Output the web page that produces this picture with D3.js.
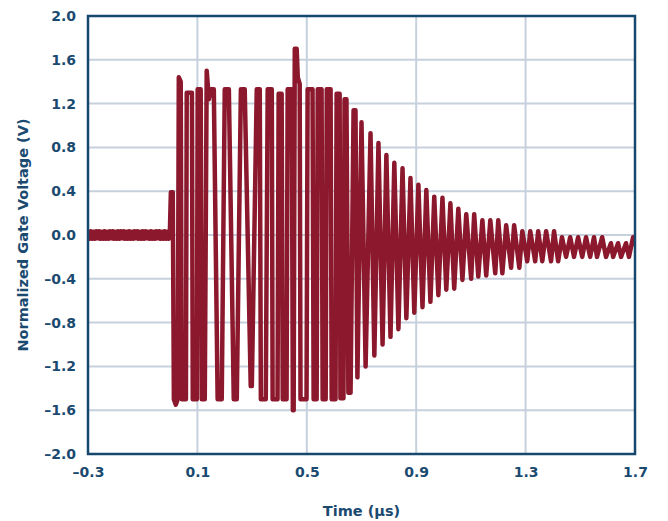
<!DOCTYPE html>
<html>
<head>
<meta charset="utf-8">
<script src="https://cdn.jsdelivr.net/npm/d3@7"></script>
<style>
  html, body { margin: 0; padding: 0; background: #ffffff; }
  svg { display: block; }
  text { font-family: "DejaVu Sans", "Liberation Sans", Arial, sans-serif; font-weight: bold; fill: #1b4a70; }
</style>
</head>
<body>
<svg id="chart" width="668" height="521"></svg>
<script>
// Axis ticks
const xTicks = [-0.3, 0.1, 0.5, 0.9, 1.3, 1.7];
const yTicks = [2.0, 1.6, 1.2, 0.8, 0.4, 0.0, -0.4, -0.8, -1.2, -1.6, -2.0];
const xTitle = "Time (µs)";
const yTitle = "Normalized Gate Voltage (V)";

// Pre-trigger baseline noise: [time µs, volts]
const baseline = [
  [-0.300, 0.03], [-0.295, -0.035], [-0.290, 0.035], [-0.285, -0.035], [-0.280, 0.03],
  [-0.275, -0.035], [-0.270, 0.035], [-0.265, -0.03], [-0.260, 0.035], [-0.255, -0.035],
  [-0.250, 0.03], [-0.245, -0.035], [-0.240, 0.035], [-0.235, -0.035], [-0.230, 0.03],
  [-0.225, -0.035], [-0.220, 0.035], [-0.215, -0.03], [-0.210, 0.035], [-0.205, -0.035],
  [-0.200, 0.03], [-0.195, -0.035], [-0.190, 0.035], [-0.185, -0.035], [-0.180, 0.035],
  [-0.175, -0.03], [-0.170, 0.035], [-0.165, -0.035], [-0.160, 0.03], [-0.155, -0.035],
  [-0.150, 0.035], [-0.145, -0.035], [-0.140, 0.03], [-0.135, -0.035], [-0.130, 0.035],
  [-0.125, -0.03], [-0.120, 0.035], [-0.115, -0.035], [-0.110, 0.03], [-0.105, -0.035],
  [-0.100, 0.035], [-0.095, -0.035], [-0.090, 0.035], [-0.085, -0.03], [-0.080, 0.03],
  [-0.075, -0.035], [-0.070, 0.035], [-0.065, -0.035], [-0.060, 0.03], [-0.055, -0.035],
  [-0.050, 0.035], [-0.045, -0.03], [-0.040, 0.035], [-0.035, -0.035], [-0.030, 0.03],
  [-0.025, -0.035], [-0.020, 0.035], [-0.015, -0.035], [-0.010, 0.03], [-0.005, -0.035],
  [-0.001, 0.00]
];

// Switching transient (clipped region): [time µs, volts]
const burst = [
  [0.003, 0.39], [0.010, 0.39], [0.014, -1.50], [0.021, -1.55], [0.028, -1.50],
  [0.032, 1.44], [0.039, 1.40], [0.043, -1.50], [0.058, -1.50], [0.061, 1.30],
  [0.080, 1.30], [0.083, -1.50], [0.098, -1.50], [0.101, 1.33], [0.112, 1.33],
  [0.116, -1.50], [0.127, -1.50], [0.134, 1.50], [0.142, 1.24], [0.149, 1.33],
  [0.160, 1.33], [0.174, -1.50], [0.189, -1.50], [0.200, 1.33], [0.215, 1.33],
  [0.233, -1.50], [0.244, -1.50], [0.259, 1.33], [0.273, 1.33], [0.295, -1.38],
  [0.299, -1.38], [0.317, 1.33], [0.328, 1.33], [0.332, -1.50], [0.350, -1.50],
  [0.357, 1.33], [0.372, 1.33], [0.375, -1.50], [0.393, -1.50], [0.397, 1.29],
  [0.408, 1.29], [0.412, -1.50], [0.426, -1.50], [0.430, 1.33], [0.445, 1.33],
  [0.449, -1.60], [0.452, -1.60], [0.456, 1.70], [0.463, 1.70], [0.467, 1.44],
  [0.474, 1.38], [0.477, -1.50], [0.499, -1.50], [0.503, 1.33], [0.521, 1.33],
  [0.525, -1.50], [0.536, -1.50], [0.540, 1.33], [0.554, 1.33], [0.558, -1.50],
  [0.569, -1.50], [0.573, 1.33], [0.587, 1.33], [0.591, -1.50], [0.605, -1.50],
  [0.609, 1.29], [0.620, 1.29], [0.623, -1.49], [0.634, -1.49], [0.638, 1.24],
  [0.645, 1.24], [0.652, -1.44], [0.660, -1.44], [0.671, 1.14], [0.678, 1.14]
];

// Decaying ringing: [time µs, volts]
const ringing = [
  [0.685, -1.30], [0.700, 1.03], [0.715, -1.20], [0.733, 0.93], [0.747, -1.10],
  [0.762, 0.84], [0.777, -1.00], [0.791, 0.73], [0.806, -0.93], [0.820, 0.66],
  [0.835, -0.86], [0.850, 0.61], [0.864, -0.76], [0.879, 0.52], [0.893, -0.71],
  [0.908, 0.46], [0.923, -0.66], [0.937, 0.41], [0.952, -0.61], [0.966, 0.35],
  [0.981, -0.55], [0.996, 0.34], [1.010, -0.50], [1.025, 0.29], [1.039, -0.49],
  [1.054, 0.24], [1.069, -0.41], [1.083, 0.19], [1.101, -0.40], [1.112, 0.19],
  [1.127, -0.38], [1.142, 0.135], [1.156, -0.37], [1.171, 0.135], [1.189, -0.35],
  [1.200, 0.135], [1.215, -0.35], [1.229, 0.09], [1.247, -0.30], [1.258, 0.09],
  [1.277, -0.30], [1.288, 0.035], [1.306, -0.24], [1.317, 0.035], [1.335, -0.24],
  [1.346, 0.035], [1.361, -0.24], [1.375, 0.035], [1.393, -0.24], [1.404, 0.035],
  [1.419, -0.24], [1.433, -0.02], [1.448, -0.20], [1.463, -0.02], [1.477, -0.20],
  [1.492, -0.02], [1.507, -0.20], [1.521, -0.02], [1.536, -0.20], [1.550, -0.02],
  [1.561, -0.20], [1.580, -0.02], [1.594, -0.20], [1.612, -0.075], [1.620, -0.20],
  [1.638, -0.075], [1.649, -0.20], [1.667, -0.075], [1.678, -0.20], [1.693, -0.02],
  [1.700, -0.10]
];

const svg = d3.select("#chart");
const margin = { left: 88, top: 16, right: 33, bottom: 67 };
const W = 668 - margin.left - margin.right;
const H = 521 - margin.top - margin.bottom;

const x = d3.scaleLinear().domain([-0.3, 1.7]).range([0, W]);
const y = d3.scaleLinear().domain([-2.0, 2.0]).range([H, 0]);

const g = svg.append("g").attr("transform", `translate(${margin.left},${margin.top})`);

const fmt = v => (v < 0 ? "\u2013" + Math.abs(v).toFixed(1) : v.toFixed(1));

// Grid
g.append("g")
  .selectAll("line")
  .data(yTicks.filter(v => v > -2 && v < 2))
  .join("line")
  .attr("x1", 0).attr("x2", W)
  .attr("y1", d => y(d)).attr("y2", d => y(d))
  .attr("stroke", "#c6d1dd").attr("stroke-width", 2);

g.append("g")
  .selectAll("line")
  .data(xTicks.filter(v => v > -0.3 && v < 1.7))
  .join("line")
  .attr("y1", 0).attr("y2", H)
  .attr("x1", d => x(d)).attr("x2", d => x(d))
  .attr("stroke", "#c6d1dd").attr("stroke-width", 2);

// Axes (labels only; frame drawn separately)
const xAxis = d3.axisBottom(x).tickValues(xTicks).tickFormat(fmt).tickSize(0).tickPadding(13);
const yAxis = d3.axisLeft(y).tickValues(yTicks).tickFormat(fmt).tickSize(0).tickPadding(12);

const gx = g.append("g").attr("transform", `translate(0,${H})`).call(xAxis);
const gy = g.append("g").call(yAxis);
[gx, gy].forEach(a => {
  a.select(".domain").remove();
  a.selectAll("text")
    .style("font-size", "14px")
    .style("font-family", "'DejaVu Sans', sans-serif")
    .style("font-weight", "bold")
    .attr("fill", "#1b4a70");
});

// Waveform
const data = baseline.concat(burst, ringing);
const line = d3.line().x(d => x(d[0])).y(d => y(d[1]));
svg.append("defs").append("clipPath").attr("id", "plotclip")
  .append("rect").attr("x", 0).attr("y", 0).attr("width", W).attr("height", H);

g.append("path")
  .datum(data)
  .attr("clip-path", "url(#plotclip)")
  .attr("d", line)
  .attr("fill", "none")
  .attr("stroke", "#8b182c")
  .attr("stroke-width", 4.5)
  .attr("stroke-linejoin", "round");

// Frame
g.append("rect")
  .attr("x", 0).attr("y", 0).attr("width", W).attr("height", H)
  .attr("fill", "none").attr("stroke", "#16486e").attr("stroke-width", 2.5);

// Titles
svg.append("text")
  .attr("x", margin.left + W / 2).attr("y", 516)
  .attr("text-anchor", "middle")
  .style("font-size", "14.5px")
  .text(xTitle);

svg.append("text")
  .attr("transform", `translate(28,${margin.top + H / 2}) rotate(-90)`)
  .attr("text-anchor", "middle")
  .style("font-size", "14.5px")
  .text(yTitle);
</script>
</body>
</html>
